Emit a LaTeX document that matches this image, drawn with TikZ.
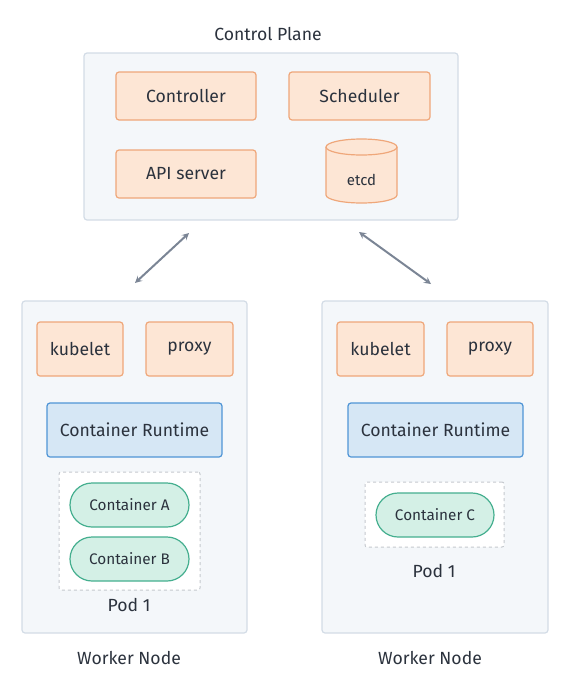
\documentclass[tikz,border=0pt]{standalone}
\usepackage{fontspec}
\setmainfont{Fira Sans}
\usetikzlibrary{arrows}

\definecolor{ink}{HTML}{2B323D}
\definecolor{planefill}{HTML}{F4F7FA}
\definecolor{planeline}{HTML}{D3DCE6}
\definecolor{compfill}{HTML}{FDE6D5}
\definecolor{compline}{HTML}{EFA77A}
\definecolor{rtfill}{HTML}{D6E7F5}
\definecolor{rtline}{HTML}{4F95D6}
\definecolor{ctrfill}{HTML}{D4F0E6}
\definecolor{ctrline}{HTML}{45AF8F}
\definecolor{podline}{HTML}{C5C9CE}
\definecolor{link}{HTML}{7B8595}

\begin{document}
\begin{tikzpicture}[x=1pt, y=-1pt,
    every node/.style = {text=ink, font=\fontsize{17.6}{21}\selectfont},
    plane/.style = {draw=planeline, fill=planefill, line width=1.2pt, rounded corners=3pt},
    comp/.style = {draw=compline, fill=compfill, line width=1.2pt, rounded corners=3pt, minimum width=140pt, minimum height=48pt},
    agent/.style = {comp, minimum width=86pt, minimum height=54pt},
    runtime/.style = {draw=rtline, fill=rtfill, line width=1.2pt, rounded corners=3pt, minimum width=175pt, minimum height=54pt},
    pod/.style = {draw=podline, fill=white, dashed, line width=1pt, rounded corners=2pt},
    ctr/.style = {draw=ctrline, fill=ctrfill, line width=1.2pt, rounded corners=22pt, minimum width=119pt, minimum height=44pt, font=\fontsize{15.3}{18}\selectfont},
    db/.style = {draw=compline, fill=compfill, line width=1.2pt, x radius=35.5, y radius=8}]
    \useasboundingbox (0,0) rectangle (569,691);

    % Control plane
    \node[plane, minimum width=374pt, minimum height=167pt] (cp) at (271,136.5) {};
    \node (cptitle) at (268,34) {Control Plane};
    \node[comp] (ctrl) at (186,96) {Controller};
    \node[comp, minimum width=141pt] (sched) at (359.5,96) {Scheduler};
    \node[comp] (api) at (186,174) {API server};

    % etcd cylinder
    \filldraw[db] (326,147) -- (326,195) arc[start angle=180, end angle=0] -- (397,147)
        arc[start angle=0, end angle=-180] -- cycle;
    \draw[db, fill=none] (326,147) arc[start angle=180, end angle=0];
    \node[font=\fontsize{15}{18}\selectfont] (etcd) at (361.5,180) {etcd};

    % Worker nodes
    \node[plane, minimum width=225pt, minimum height=332pt] (wl) at (134.5,467) {};
    \node[plane, minimum width=226pt, minimum height=332pt] (wr) at (435,467) {};
    \node (wltitle) at (129,658) {Worker Node};
    \node (wrtitle) at (430,658) {Worker Node};

    \node[agent] (kl) at (80,349) {kubelet};
    \node[agent, minimum width=87pt] (pl) at (189.5,349) {proxy};
    \node[runtime] (rtl) at (134.5,430) {Container Runtime};
    \node[pod, minimum width=141pt, minimum height=118pt] (podl) at (129.5,531) {};
    \node[ctr] (ca) at (129.5,505) {Container A};
    \node[ctr] (cb) at (129.5,559) {Container B};
    \node (podltitle) at (129,605) {Pod 1};

    \node[agent, minimum width=87pt] (kr) at (380.5,349) {kubelet};
    \node[agent] (pr) at (490,349) {proxy};
    \node[runtime] (rtr) at (435.5,430) {Container Runtime};
    \node[pod, minimum width=139pt, minimum height=65pt] (podr) at (434.5,514.5) {};
    \node[ctr, minimum width=118pt] (cc) at (435,515) {Container C};
    \node (podrtitle) at (434,571) {Pod 1};

    % Lines
    \coordinate (cpl) at (189,233);
    \coordinate (cpr) at (359,232);
    \coordinate (wlt) at (135,283);
    \coordinate (wrt) at (431,284);
    \draw[<->, >=stealth, draw=link, line width=2pt] (wlt) -- (cpl);
    \draw[<->, >=stealth, draw=link, line width=2pt] (cpr) -- (wrt);
\end{tikzpicture}
\end{document}
